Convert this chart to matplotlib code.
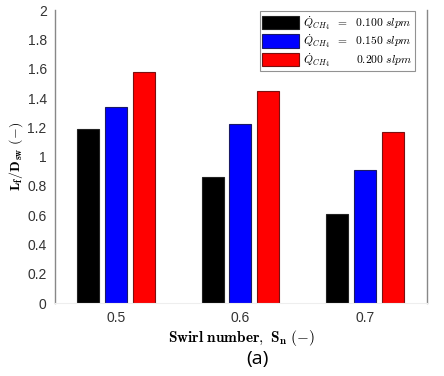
import numpy as np
import matplotlib.pyplot as plt

plt.rcParams['mathtext.fontset'] = 'cm'

swirl = [0.5, 0.6, 0.7]
flow_labels = [r'$\dot{Q}_{CH_4}\ \ =\ \ 0.100\ slpm$',
               r'$\dot{Q}_{CH_4}\ \ =\ \ 0.150\ slpm$',
               r'$\dot{Q}_{CH_4}\ \ \ \ \ \ \ \ 0.200\ slpm$']
q100 = [1.19, 0.86, 0.61]
q150 = [1.34, 1.22, 0.91]
q200 = [1.58, 1.45, 1.17]
colours = ['black', 'blue', 'red']
edges = ['#222222', '#1a1a66', '#7a1010']

fig = plt.figure(figsize=(4.44, 3.76), dpi=100)
ax = fig.add_axes([0.124, 0.194, 0.838, 0.779])

x = np.array(swirl)
w = 0.0177
step = 0.0222
for i, (vals, c, ec, lab) in enumerate(zip([q100, q150, q200], colours, edges, flow_labels)):
    ax.bar(x + (i - 1) * step, vals, width=w, color=c, edgecolor=ec,
           linewidth=0.8, label=lab)

ax.set_xlim(0.451, 0.75)
ax.set_ylim(0, 2)
ax.set_xticks(swirl)
ax.set_xticklabels(['0.5', '0.6', '0.7'], family='Liberation Sans')
ax.set_yticks(np.arange(0, 2.01, 0.2))
ax.set_yticklabels(['0', '0.2', '0.4', '0.6', '0.8', '1', '1.2', '1.4', '1.6', '1.8', '2'],
                   family='Liberation Sans')
ax.tick_params(length=0, labelsize=10, colors='#333333', pad=6)

for s in ['left', 'right']:
    ax.spines[s].set_color('#888888')
    ax.spines[s].set_linewidth(1.0)
ax.spines['top'].set_visible(False)
ax.spines['bottom'].set_color('#eeeeee')

ax.set_ylabel(r'$\mathbf{L_f/D_{sw}}\ (-)$', fontsize=10, labelpad=2)
ax.set_xlabel(r'$\mathbf{Swirl\ number,\ S_n}\ (-)$', fontsize=11, labelpad=2)

leg = ax.legend(loc='upper right', bbox_to_anchor=(0.97, 1.0), fontsize=8.3,
                frameon=True, fancybox=False, edgecolor='#777777',
                handlelength=3.2, handleheight=1.4, labelspacing=0.05,
                borderpad=0.2, handletextpad=0.4, borderaxespad=0.1)
leg.get_frame().set_linewidth(0.8)

fig.text(0.579, 0.022, '(a)', fontsize=14, ha='center', va='bottom', family='Open Sans')

fig.savefig('out.png', dpi=100)
